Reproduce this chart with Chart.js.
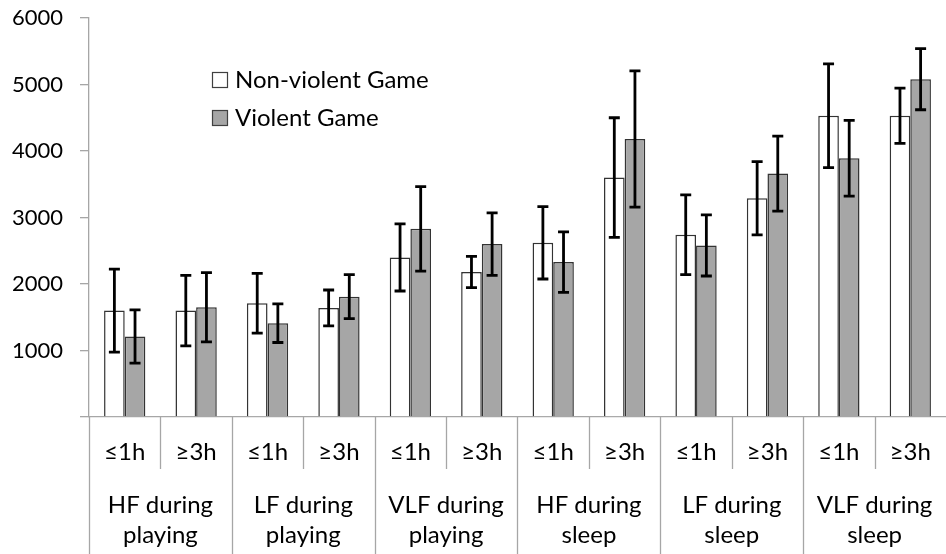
<!DOCTYPE html>
<html>
<head>
<meta charset="utf-8">
<script src="https://cdn.jsdelivr.net/npm/chart.js@4.4.1/dist/chart.umd.min.js"></script>
<style>
  html, body { margin: 0; padding: 0; background: #ffffff; }
  #wrap { width: 946px; height: 554px; position: relative; }
</style>
</head>
<body>
<div id="wrap"><canvas id="c" width="946" height="554"></canvas></div>
<script>
// Heart-rate-variability power by game type and daily play time
const durations = ['≤1h', '≥3h'];
const groups = [
  ['HF during', 'playing'],
  ['LF during', 'playing'],
  ['VLF during', 'playing'],
  ['HF during', 'sleep'],
  ['LF during', 'sleep'],
  ['VLF during', 'sleep']
];
const seriesNames = ['Non-violent Game', 'Violent Game'];
const nonViolent    = [1600, 1600, 1710, 1640, 2400, 2180, 2620, 3600, 2740, 3290, 4530, 4530];
const nonViolentErr = [625, 530, 450, 270, 505, 235, 545, 900, 600, 550, 780, 415];
const violent       = [1210, 1650, 1410, 1810, 2830, 2600, 2330, 4180, 2580, 3660, 3890, 5080];
const violentErr    = [400, 520, 290, 330, 635, 470, 455, 1025, 460, 565, 570, 460];
const yTicks = [0, 1000, 2000, 3000, 4000, 5000, 6000];

const FONT = 'Lato, "Open Sans", sans-serif';
const LABEL_SIZE = 24;
const AXIS_GRAY = '#a6a6a6';

const categories = [];
groups.forEach(() => durations.forEach(d => categories.push(d)));

// whiskers for +/- one deviation
const errorBars = {
  id: 'errorBars',
  afterDatasetsDraw(chart) {
    const ctx = chart.ctx;
    const y = chart.scales.y;
    ctx.save();
    ctx.strokeStyle = '#000000';
    ctx.lineWidth = 2.8;
    chart.data.datasets.forEach((ds, di) => {
      const meta = chart.getDatasetMeta(di);
      meta.data.forEach((bar, i) => {
        const v = ds.data[i], e = ds.errors[i];
        const top = y.getPixelForValue(v + e);
        const bot = y.getPixelForValue(v - e);
        const cap = 5.5;
        ctx.beginPath();
        ctx.moveTo(bar.x, top); ctx.lineTo(bar.x, bot);
        ctx.moveTo(bar.x - cap, top); ctx.lineTo(bar.x + cap, top);
        ctx.moveTo(bar.x - cap, bot); ctx.lineTo(bar.x + cap, bot);
        ctx.stroke();
      });
    });
    ctx.restore();
  }
};

// two-level category axis: separators and group captions
const groupAxis = {
  id: 'groupAxis',
  afterDraw(chart) {
    const ctx = chart.ctx;
    const x = chart.scales.x;
    const area = chart.chartArea;
    const n = categories.length;
    const step = x.getPixelForValue(1) - x.getPixelForValue(0);
    ctx.save();
    ctx.strokeStyle = AXIS_GRAY;
    ctx.lineWidth = 1.3;
    for (let i = 0; i < n; i++) {
      const px = Math.round(x.getPixelForValue(i) - step / 2) + 0.5;
      const isGroupEdge = i % durations.length === 0;
      ctx.beginPath();
      ctx.moveTo(px, area.bottom);
      ctx.lineTo(px, isGroupEdge ? 554 : 469);
      ctx.stroke();
    }
    ctx.fillStyle = '#000000';
    ctx.font = LABEL_SIZE + 'px ' + FONT;
    ctx.textAlign = 'center';
    ctx.textBaseline = 'middle';
    groups.forEach((g, gi) => {
      const a = x.getPixelForValue(gi * durations.length);
      const b = x.getPixelForValue(gi * durations.length + durations.length - 1);
      const cx = (a + b) / 2;
      ctx.fillText(g[0], cx, 505);
      ctx.fillText(g[1], cx, 535);
    });
    ctx.restore();
  }
};

// legend inside the plot area
const insetLegend = {
  id: 'insetLegend',
  afterDraw(chart) {
    const ctx = chart.ctx;
    ctx.save();
    ctx.font = LABEL_SIZE + 'px ' + FONT;
    ctx.textBaseline = 'middle';
    ctx.textAlign = 'left';
    chart.data.datasets.forEach((ds, i) => {
      const cy = 80 + i * 38;
      ctx.fillStyle = ds.backgroundColor;
      ctx.fillRect(212.5, cy - 7.5, 15, 15);
      ctx.strokeStyle = '#404040';
      ctx.lineWidth = 1.2;
      ctx.strokeRect(212.5, cy - 7.5, 15, 15);
      ctx.fillStyle = '#000000';
      ctx.fillText(ds.label, 235, cy);
    });
    ctx.restore();
  }
};

new Chart(document.getElementById('c'), {
  type: 'bar',
  data: {
    labels: categories,
    datasets: [
      {
        label: seriesNames[0],
        data: nonViolent,
        errors: nonViolentErr,
        backgroundColor: '#ffffff',
        borderColor: '#333333',
        borderWidth: 1.5
      },
      {
        label: seriesNames[1],
        data: violent,
        errors: violentErr,
        backgroundColor: '#a6a6a6',
        borderColor: '#333333',
        borderWidth: 1.5
      }
    ]
  },
  options: {
    responsive: false,
    animation: false,
    devicePixelRatio: 1,
    layout: { padding: { top: 18, right: 0, left: 0, bottom: 0 } },
    datasets: { bar: { categoryPercentage: 0.578, barPercentage: 1.0 } },
    plugins: { legend: { display: false }, tooltip: { enabled: false } },
    scales: {
      x: {
        offset: true,
        grid: { display: false },
        border: { color: AXIS_GRAY, width: 1.3 },
        ticks: {
          color: '#000000',
          font: { family: FONT, size: LABEL_SIZE },
          padding: 13,
          maxRotation: 0,
          autoSkip: false
        },
        afterFit(scale) { scale.height = 137; }
      },
      y: {
        min: 0,
        max: 6000,
        afterBuildTicks(scale) { scale.ticks = yTicks.map(v => ({ value: v })); },
        grid: {
          drawOnChartArea: false,
          drawTicks: true,
          tickLength: 9,
          color: AXIS_GRAY,
          lineWidth: 1.3
        },
        border: { color: AXIS_GRAY, width: 1.3 },
        ticks: {
          color: '#000000',
          font: { family: FONT, size: 22 },
          padding: 17,
          callback: v => (v === 0 ? '' : String(v))
        },
        afterFit(scale) {
          scale.width = 89;
          scale.paddingTop = 0;
          scale.paddingBottom = 0;
        }
      }
    }
  },
  plugins: [errorBars, groupAxis, insetLegend]
});
</script>
</body>
</html>
